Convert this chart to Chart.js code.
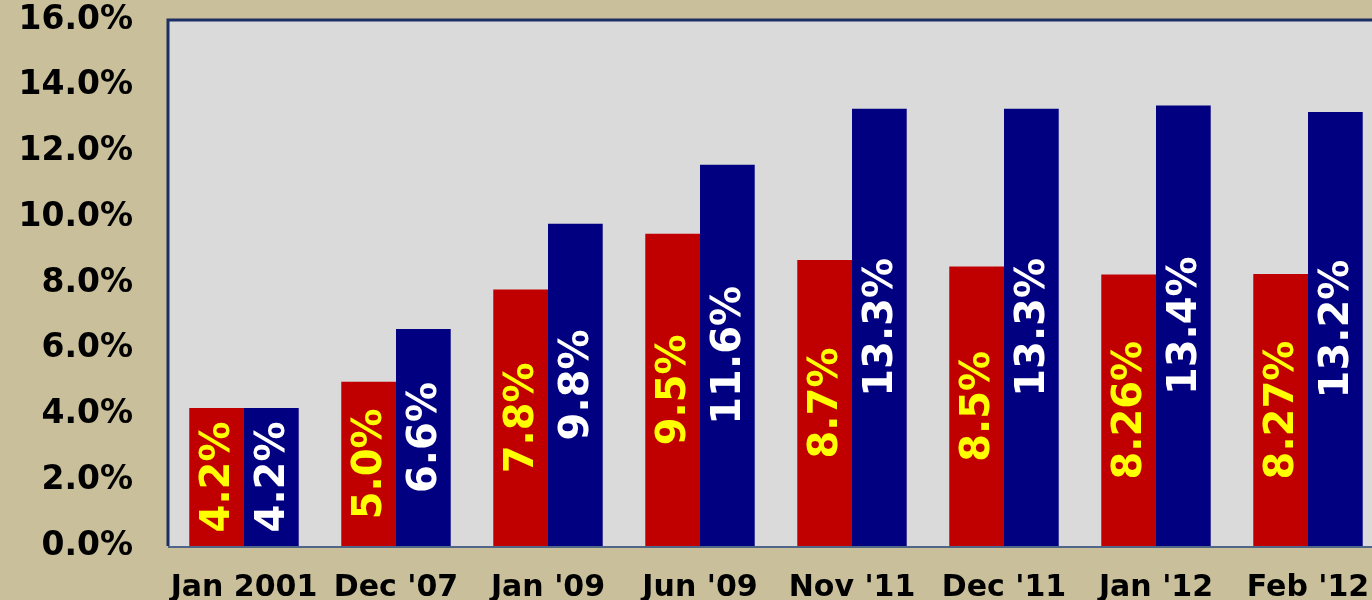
<!DOCTYPE html>
<html>
<head>
<meta charset="utf-8">
<script src="https://cdn.jsdelivr.net/npm/chart.js@4.4.0/dist/chart.umd.min.js"></script>
<style>
    html, body { margin: 0; padding: 0; background: #c9bf9b; overflow: hidden; }
    #wrap { width: 1388px; height: 600px; }
</style>
</head>
<body>
<div id="wrap"><canvas id="rateChart"></canvas></div>
<script>
// ===== Data =====
const categories = ['Jan 2001', "Dec '07", "Jan '09", "Jun '09", "Nov '11", "Dec '11", "Jan '12", "Feb '12"];
const redValues = [4.2, 5.0, 7.8, 9.5, 8.7, 8.5, 8.26, 8.27];
const blueValues = [4.2, 6.6, 9.8, 11.6, 13.3, 13.3, 13.4, 13.2];
const redLabels = ['4.2%', '5.0%', '7.8%', '9.5%', '8.7%', '8.5%', '8.26%', '8.27%'];
const blueLabels = ['4.2%', '6.6%', '9.8%', '11.6%', '13.3%', '13.3%', '13.4%', '13.2%'];

const FONT = '"DejaVu Sans", Verdana, sans-serif';

// plot background + border
const plotFrame = {
    id: 'plotFrame',
    beforeDraw(chart) {
        const { ctx, chartArea: a } = chart;
        ctx.save();
        ctx.fillStyle = '#dadada';
        ctx.fillRect(a.left, a.top, a.right - a.left, a.bottom - a.top);
        ctx.restore();
    },
    afterDatasetsDraw(chart) {
        const { ctx, chartArea: a } = chart;
        ctx.save();
        ctx.strokeStyle = '#1c2f63';
        ctx.lineWidth = 3;
        ctx.beginPath();
        ctx.moveTo(a.left, a.bottom);
        ctx.lineTo(a.left, a.top);
        ctx.lineTo(a.right + 10, a.top);
        ctx.stroke();
        ctx.strokeStyle = '#4f6688';
        ctx.lineWidth = 2;
        ctx.beginPath();
        ctx.moveTo(a.left, a.bottom + 1);
        ctx.lineTo(a.right + 10, a.bottom + 1);
        ctx.stroke();
        ctx.restore();
    }
};

// rotated value labels inside bars
const barLabels = {
    id: 'barLabels',
    afterDatasetsDraw(chart) {
        const { ctx } = chart;
        const sets = [
            { labels: redLabels, color: '#ffff00' },
            { labels: blueLabels, color: '#ffffff' }
        ];
        sets.forEach((s, di) => {
            chart.getDatasetMeta(di).data.forEach((bar, i) => {
                const cy = (bar.y + bar.base) / 2;
                ctx.save();
                ctx.translate(bar.x, cy);
                ctx.rotate(-Math.PI / 2);
                ctx.fillStyle = s.color;
                ctx.font = 'bold 40px ' + FONT;
                ctx.textAlign = 'center';
                ctx.textBaseline = 'middle';
                ctx.fillText(s.labels[i], 0, 2);
                ctx.restore();
            });
        });
    }
};

const ctx = document.getElementById('rateChart').getContext('2d');
new Chart(ctx, {
    type: 'bar',
    data: {
        labels: categories,
        datasets: [
            { label: 'Red', data: redValues, backgroundColor: '#c00000', borderWidth: 0, categoryPercentage: 0.72, barPercentage: 1.0 },
            { label: 'Blue', data: blueValues, backgroundColor: '#000080', borderWidth: 0, categoryPercentage: 0.72, barPercentage: 1.0 }
        ]
    },
    options: {
        responsive: true,
        maintainAspectRatio: false,
        animation: false,
        layout: { padding: { top: 20, right: 4, left: 0, bottom: 0 } },
        plugins: { legend: { display: false }, tooltip: { enabled: false } },
        scales: {
            x: {
                grid: { display: false },
                border: { display: false },
                afterFit: s => { s.height = 54; },
                ticks: { color: '#000', padding: 16, maxRotation: 0, font: { family: FONT, size: 30, weight: 'bold' } }
            },
            y: {
                min: 0, max: 16,
                afterFit: s => { s.width = 168; s.paddingTop = 0; s.paddingBottom = 0; },
                grid: { display: false },
                border: { display: false },
                ticks: {
                    stepSize: 2, color: '#000', padding: 27,
                    font: { family: FONT, size: 33, weight: 'bold' },
                    callback: v => v.toFixed(1) + '%'
                }
            }
        }
    },
    plugins: [plotFrame, barLabels]
});
</script>
</body>
</html>
